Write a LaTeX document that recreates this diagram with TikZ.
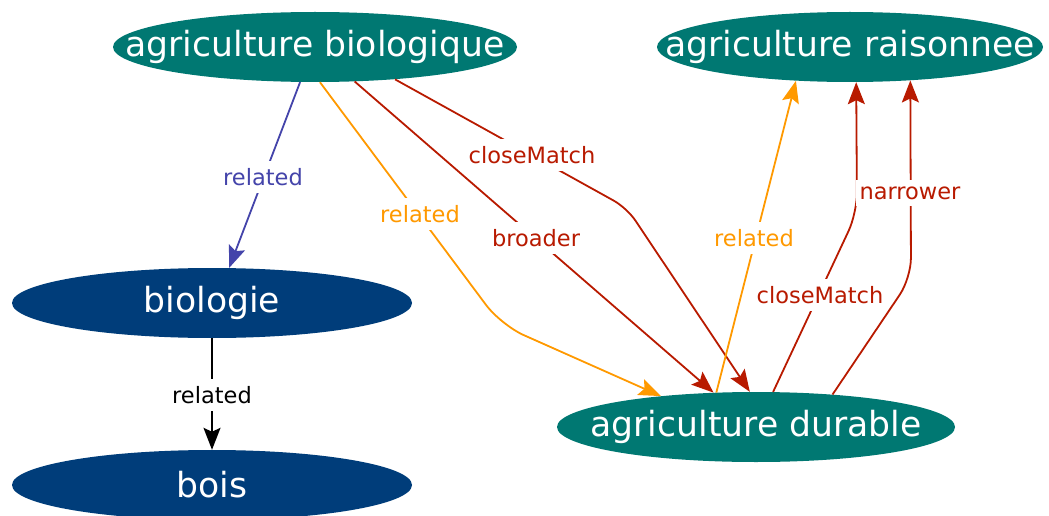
\documentclass[tikz,border=0pt]{standalone}
\usepackage{fontspec}
\setmainfont{DejaVu Sans}
\usetikzlibrary{shapes.geometric,arrows.meta}
\definecolor{teal1}{RGB}{0,120,114}
\definecolor{navy1}{RGB}{0,61,122}
\definecolor{red1}{RGB}{184,26,0}
\definecolor{orange1}{RGB}{255,153,0}
\definecolor{blue1}{RGB}{68,68,170}
\tikzset{
 concept/.style={ellipse, draw=none, fill=teal1, text=white, inner sep=0pt, minimum height=70pt, font=\fontsize{34.6}{40}\selectfont},
 topic/.style={concept, fill=navy1},
 lbl/.style={fill=white, inner xsep=4pt, inner ysep=7pt, font=\fontsize{22.5}{26}\selectfont},
 edge/.style={line width=1.8pt, -{Stealth[length=22pt,width=17pt,inset=4pt]}},
}
\begin{document}
\begin{tikzpicture}[x=1pt,y=-1pt]
\useasboundingbox (0,0) rectangle (1049,516);
\node[concept, minimum width=404pt] (ab) at (315,47) {\makebox[0pt]{agriculture biologique}};
\node[concept, minimum width=386pt] (ar) at (850,47) {\makebox[0pt]{agriculture raisonnee}};
\node[topic, minimum width=400pt] (bio) at (212,303) {\makebox[0pt]{biologie}};
\node[topic, minimum width=400pt] (bois) at (212,485) {\makebox[0pt]{bois}};
\node[concept, minimum width=398pt] (ad) at (756,427) {\makebox[0pt]{agriculture durable}};

\draw[edge, blue1] (ab.247.5) -- (bio.64);
\draw[edge, orange1, rounded corners=25pt] (ab.278) -- (501,325) -- (ad.162);
\draw[edge, red1] (ab.319) -- (ad.141.5);
\draw[edge, red1, rounded corners=15pt] (ab.338) -- (627,208) -- (ad.100);
\draw[edge, orange1] (ad.139.5) -- (ar.212.5);
\draw[edge, red1, rounded corners=20pt] (ad.64) -- (857,213) -- (ar.280);
\draw[edge, red1, rounded corners=20pt] (ad.23) -- (911,278) -- (ar.331);
\draw[edge, black] (bio.south) -- (bois.north);

\node[lbl, text=blue1] (l1) at (263,177) {related};
\node[lbl, text=orange1] (l2) at (420,214) {related};
\node[lbl, text=red1] (l3) at (536,238) {broader};
\node[lbl, text=red1] (l4) at (532,155) {closeMatch};
\node[lbl, text=orange1] (l5) at (754,238) {related};
\node[lbl, text=red1] (l6) at (820,295) {closeMatch};
\node[lbl, text=red1] (l7) at (910,193) {narrower};
\node[lbl, text=black] (l8) at (212,395) {related};
\end{tikzpicture}
\end{document}
